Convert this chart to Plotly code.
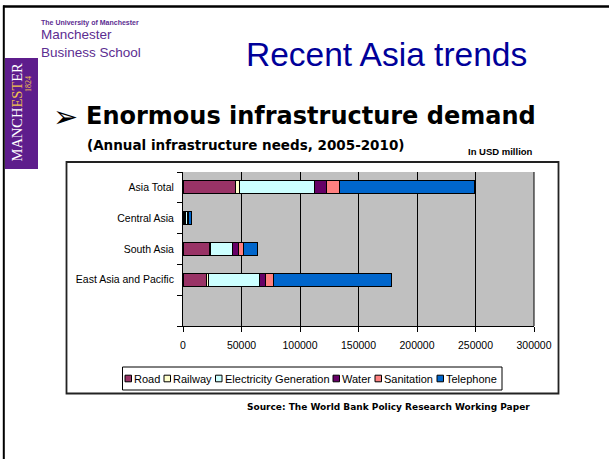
import plotly.graph_objects as go

# ---------------- data ----------------
categories = ["Asia Total", "Central Asia", "South Asia", "East Asia and Pacific"]
series_names = ["Road", "Railway", "Electricity Generation", "Water", "Sanitation", "Telephone"]
road = [44500, 1500, 22300, 20500]
railway = [4000, 300, 1400, 1700]
electricity = [63600, 2000, 18300, 43400]
water = [10600, 400, 5100, 5100]
sanitation = [11100, 600, 4300, 6600]
telephone = [115000, 2500, 12000, 100700]
series_values = [road, railway, electricity, water, sanitation, telephone]
series_colors = ["#993366", "#FFFFCC", "#CCFFFF", "#660066", "#FF8080", "#0066CC"]
x_ticks = [0, 50000, 100000, 150000, 200000, 250000, 300000]
x_tick_labels = ["0", "50000", "100000", "150000", "200000", "250000", "300000"]

# ---------------- layout helpers ----------------
W, H = 609, 459
ML, MR, MT, MB = 183, 75, 172, 133
PW = W - ML - MR
PH = H - MT - MB


def fx(px):
    return (px - ML) / PW


def fy(py):
    return (H - MB - py) / PH


y_pos = [len(categories) - i for i in range(len(categories))]

fig = go.Figure()
for name, vals, col in zip(series_names, series_values, series_colors):
    fig.add_trace(go.Bar(
        x=vals, y=y_pos, orientation="h", name=name,
        marker=dict(color=col, line=dict(color="black", width=1)),
        width=0.42, showlegend=False,
    ))

shapes = []
annotations = []

# slide border (top and left)
shapes.append(dict(type="line", xref="paper", yref="paper", x0=fx(3), x1=fx(609), y0=fy(6.5), y1=fy(6.5),
                   line=dict(color="black", width=2.5)))
shapes.append(dict(type="line", xref="paper", yref="paper", x0=fx(3.8), x1=fx(3.8), y0=fy(5.5), y1=fy(459),
                   line=dict(color="black", width=2)))

# purple crest box
shapes.append(dict(type="rect", xref="paper", yref="paper", x0=fx(5), x1=fx(38), y0=fy(58), y1=fy(169),
                   fillcolor="#5E1D8C", line=dict(width=0), layer="above"))

# chart frame
shapes.append(dict(type="rect", xref="paper", yref="paper", x0=fx(66.5), x1=fx(558.5), y0=fy(162), y1=fy(393.5),
                   line=dict(color="#222222", width=1.8), layer="below"))

# right edge grid line
shapes.append(dict(type="line", xref="paper", yref="paper", x0=1, x1=1, y0=0, y1=1,
                   line=dict(color="black", width=1)))

# legend (drawn from series names / colours)
leg_sq_x = [125, 164, 215.5, 333, 375, 437]
leg_cy = 378.5
shapes.append(dict(type="rect", xref="paper", yref="paper", x0=fx(122.5), x1=fx(502), y0=fy(367), y1=fy(390),
                   line=dict(color="black", width=1), fillcolor="white", layer="above"))
for sx, name, col in zip(leg_sq_x, series_names, series_colors):
    shapes.append(dict(type="rect", xref="paper", yref="paper", x0=fx(sx), x1=fx(sx + 6.5),
                       y0=fy(leg_cy - 3.3), y1=fy(leg_cy + 3.3),
                       fillcolor=col, line=dict(color="black", width=1), layer="above"))
    annotations.append(dict(text=name, xref="paper", yref="paper", x=fx(sx + 8), y=fy(leg_cy),
                            xanchor="left", yanchor="middle", showarrow=False, borderpad=0,
                            font=dict(family="Arial", size=11, color="black")))

# texts
annotations += [
    dict(text="Recent Asia trends", x=fx(386), y=fy(55), xanchor="center", yanchor="middle",
         font=dict(family="Arial", size=33.5, color="#000099")),
    dict(text="➢", x=fx(65), y=fy(116), xanchor="center", yanchor="middle",
         font=dict(family="DejaVu Sans", size=30, color="black")),
    dict(text="<b>Enormous infrastructure demand</b>", x=fx(84), y=fy(116), xanchor="left", yanchor="middle",
         font=dict(family="DejaVu Sans", size=24, color="black")),
    dict(text="<b>(Annual infrastructure needs, 2005-2010)</b>", x=fx(85), y=fy(145), xanchor="left",
         yanchor="middle", font=dict(family="DejaVu Sans", size=13.5, color="black")),
    dict(text="<b>In USD million</b>", x=fx(466), y=fy(151), xanchor="left", yanchor="middle",
         font=dict(family="Arial", size=9.5, color="black")),
    dict(text="<b>Source: The World Bank Policy Research Working Paper</b>", x=fx(245), y=fy(407),
         xanchor="left", yanchor="middle", font=dict(family="DejaVu Sans", size=9, color="black")),
    dict(text="<b>The University of Manchester</b>", x=fx(39), y=fy(22.5), xanchor="left", yanchor="middle",
         font=dict(family="Arial", size=7, color="#5C2D91")),
    dict(text="Manchester<br>Business School", x=fx(39), y=fy(43), xanchor="left", yanchor="middle",
         align="left", font=dict(family="Arial", size=13.5, color="#5C2D91")),
    dict(text='<span style="color:white">MANCH</span><span style="color:#F2C14E">EST</span>'
              '<span style="color:white">ER</span>',
         x=fx(16.5), y=fy(112), xanchor="center", yanchor="middle", textangle=-90,
         font=dict(family="Liberation Serif", size=14.5, color="white")),
    dict(text="1824", x=fx(28), y=fy(84), xanchor="center", yanchor="middle", textangle=-90,
         font=dict(family="Liberation Serif", size=8, color="#F2C14E")),
]
for a in annotations:
    a.setdefault("xref", "paper")
    a.setdefault("yref", "paper")
    a.setdefault("showarrow", False)

fig.update_layout(
    width=W, height=H, autosize=False,
    margin=dict(l=ML, r=MR, t=MT, b=MB, pad=0),
    barmode="stack",
    plot_bgcolor="#C0C0C0", paper_bgcolor="white",
    showlegend=False,
    xaxis=dict(range=[0, 300000], tickmode="array", tickvals=x_ticks, ticktext=x_tick_labels,
               showgrid=True, gridcolor="black", gridwidth=1, zeroline=False,
               showline=True, linecolor="black", linewidth=1,
               ticks="outside", ticklen=5, tickcolor="black", tickwidth=1, ticklabelstandoff=4,
               tickfont=dict(family="Arial", size=10.5, color="black"), fixedrange=True),
    yaxis=dict(range=[-0.5, len(categories) + 0.5], tickmode="array", tickvals=y_pos, ticktext=categories,
               showgrid=False, zeroline=False, showline=True, linecolor="black", linewidth=1,
               ticks="", ticklabelstandoff=6,
               minor=dict(tickmode="linear", tick0=0.5, dtick=1, ticks="outside", ticklen=5,
                          tickcolor="black", tickwidth=1, showgrid=False),
               tickfont=dict(family="Arial", size=10.5, color="black"), fixedrange=True),
    shapes=shapes, annotations=annotations,
)

fig.write_html("out.html")
